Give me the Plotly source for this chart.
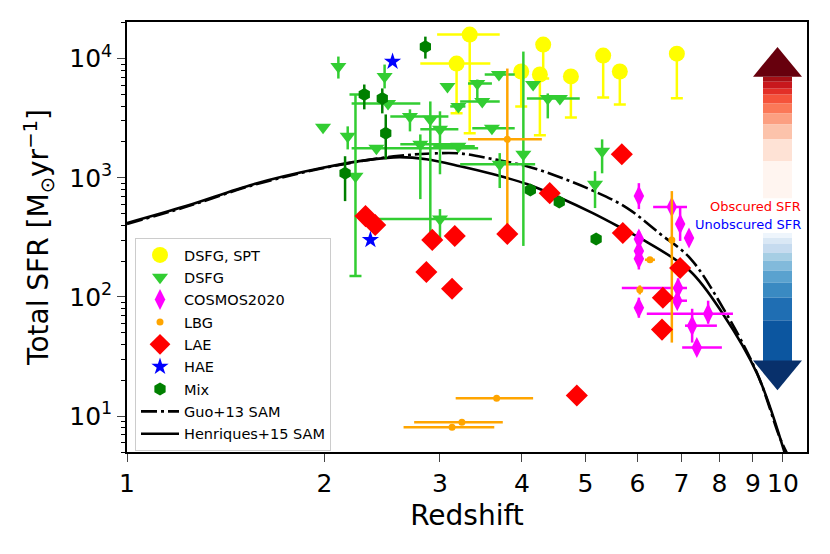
import numpy as np
import plotly.graph_objects as go

# ---- semi-analytic model curves ----
henriques_z = [1.0, 1.23, 1.56, 1.97, 2.35, 2.6, 2.86, 3.22, 3.62, 4.07, 4.57, 5.13, 5.78, 6.05, 7.21, 8.1, 9.13, 10.05]
henriques_sfr = [417, 579, 884, 1200, 1420, 1490, 1430, 1250, 1070, 885, 680, 505, 358, 313, 166, 72, 22.8, 5.0]
guo_z = [1.0, 1.23, 1.56, 1.97, 2.35, 2.6, 2.86, 3.22, 3.62, 4.07, 4.57, 5.13, 5.78, 6.49, 7.21, 8.1, 9.13, 9.9, 10.2]
guo_sfr = [410, 570, 870, 1190, 1420, 1530, 1590, 1600, 1430, 1250, 1010, 780, 560, 340, 213, 81, 23, 6.5, 4.6]

# ---- DSFG, SPT (lower error bars only) ----
spt_z = [3.33, 3.18, 4.31, 3.99, 4.26, 4.75, 5.32, 5.64, 6.89]
spt_sfr = [15900, 9080, 13100, 7790, 7350, 7080, 10600, 7790, 11000]
spt_z_lo = [2.97, 2.80, 4.31, 3.99, 4.26, 4.75, 5.32, 5.64, 6.89]
spt_z_hi = [3.70, 3.58, 4.31, 3.99, 4.26, 4.75, 5.32, 5.64, 6.89]
spt_sfr_lo = [2360, 3470, 6810, 3970, 2270, 3210, 4720, 4120, 4640]

# ---- DSFG ----
dsfg_z = [1.99, 2.10, 2.17, 2.47, 2.50, 2.70, 2.90, 3.00, 2.80, 2.40, 3.20, 3.08, 3.42,
          3.69, 3.48, 3.20, 3.60, 4.16, 4.02, 4.38, 4.57, 3.70, 3.00, 5.30, 5.17]
dsfg_sfr = [2650, 8570, 2230, 7070, 4200, 3270, 3090, 2550, 1910, 1770, 1840, 5830, 6180,
            7350, 4370, 3970, 2600, 6060, 1575, 4630, 4630, 1300, 451, 1670, 884]
dsfg_z_lo = [1.99, 2.10, 2.17, 2.47, 2.20, 2.52, 2.90, 2.80, 2.61, 2.20, 2.93, 3.08, 3.31,
             3.51, 3.22, 3.11, 3.36, 4.16, 4.02, 4.07, 4.57, 3.22, 2.41, 5.30, 5.17]
dsfg_z_hi = [1.99, 2.10, 2.17, 2.47, 2.80, 3.09, 2.90, 3.20, 3.22, 3.43, 3.39, 3.08, 3.60,
             3.90, 3.70, 3.28, 3.90, 4.16, 4.02, 4.90, 4.57, 4.19, 3.60, 5.30, 5.17]
dsfg_sfr_lo = [2650, 6800, 1730, 5620, 4200, 2450, 307, 1070, 662, 1770, 1840, 5830, 4630,
               7350, 4370, 3970, 2600, 6060, 268, 3150, 4630, 820, 295, 1090, 557]
dsfg_sfr_hi = [2650, 10400, 2700, 8910, 4200, 3750, 4370, 3610, 2310, 1770, 1840, 5830, 6670,
               7350, 4370, 3970, 2600, 6060, 11450, 5100, 4630, 1610, 546, 2100, 1136]
# the one DSFG drawn with caps
dsfg_cap_z = [2.23]
dsfg_cap_sfr = [1030]
dsfg_cap_lo = [150]
dsfg_cap_hi = [5000]

# ---- COSMOS2020 ----
cosmos_z = [6.03, 6.77, 6.97, 7.19, 6.03, 6.03, 6.03, 6.92, 6.90, 6.03, 7.69, 7.27, 7.39]
cosmos_sfr = [702, 568, 409, 313, 307, 243, 209, 119, 93, 81, 72.4, 57.4, 37.6]
cosmos_z_lo = [6.03, 6.34, 6.97, 7.19, 6.03, 6.03, 6.03, 5.68, 6.63, 6.03, 6.20, 7.09, 7.02]
cosmos_z_hi = [6.03, 7.14, 6.97, 7.19, 6.03, 6.03, 6.03, 7.14, 7.14, 6.03, 8.39, 7.93, 8.07]
cosmos_sfr_lo = [546, 568, 295, 313, 250, 243, 170, 98, 93, 67, 59.7, 41.4, 37.6]
cosmos_sfr_hi = [901, 568, 579, 313, 358, 243, 243, 143, 93, 98.5, 93, 79.6, 37.6]

# ---- LBG ----
lbg_z = [3.80, 6.77, 6.27, 6.05, 3.66, 3.24, 3.13]
lbg_sfr = [2100, 301, 205, 115, 14.1, 8.87, 8.06]
lbg_z_lo = [3.31, 6.77, 6.16, 6.05, 3.17, 2.74, 2.64]
lbg_z_hi = [4.29, 6.77, 6.38, 6.05, 4.16, 3.74, 3.63]
lbg_sfr_lo = [344, 41.4, 205, 105, 14.1, 8.87, 8.06]
lbg_sfr_hi = [8250, 773, 205, 125, 14.1, 8.87, 8.06]

# ---- LAE ----
lae_z = [2.31, 2.39, 2.92, 3.16, 3.80, 2.86, 3.13, 4.85, 4.41, 5.68, 5.70, 6.97, 6.56, 6.54]
lae_sfr = [477, 402, 301, 325, 338, 162, 117, 14.9, 743, 1575, 344, 175, 98.5, 53.2]

# ---- HAE ----
hae_z = [2.54, 2.35]
hae_sfr = [9440, 301]

# ---- Mix ----
mix_z = [2.30, 2.45, 2.85, 2.48, 2.15, 4.12, 4.56, 5.19]
mix_sfr = [5000, 4630, 12600, 2360, 1093, 788, 625, 307]
mix_sfr_lo = [3750, 3470, 10000, 1430, 637, 788, 625, 307]
mix_sfr_hi = [6060, 5620, 15280, 3400, 1516, 788, 625, 307]


def err(v, lo, hi):
    v, lo, hi = np.array(v, float), np.array(lo, float), np.array(hi, float)
    return (hi - v).tolist(), (v - lo).tolist()


FONT = "DejaVu Sans"
W, H = 830, 554
# plot box in screen pixels; the page body adds an 8px offset
OFF = 8
L, R, T, B = 127, 807, 20, 452

fig = go.Figure()

fig.add_trace(go.Scatter(x=guo_z, y=guo_sfr, mode="lines", name="Guo+13 SAM",
                         line=dict(color="black", width=2.6, dash="16px,4px,3px,4px", shape="spline"),
                         legendgroup="g8", legendrank=8))
fig.add_trace(go.Scatter(x=henriques_z, y=henriques_sfr, mode="lines", name="Henriques+15 SAM",
                         line=dict(color="black", width=2.6, shape="spline"),
                         legendgroup="g9", legendrank=9))

up, dn = err(spt_sfr, spt_sfr_lo, spt_sfr)
xu, xd = err(spt_z, spt_z_lo, spt_z_hi)
fig.add_trace(go.Scatter(x=spt_z, y=spt_sfr, mode="markers", name="DSFG, SPT",
                         marker=dict(symbol="circle", size=16, color="yellow"),
                         error_y=dict(type="data", symmetric=False, array=up, arrayminus=dn,
                                      color="yellow", thickness=2.5, width=6),
                         error_x=dict(type="data", symmetric=False, array=xu, arrayminus=xd,
                                      color="yellow", thickness=2.5, width=0),
                         legendgroup="g1", legendrank=1))

up, dn = err(dsfg_sfr, dsfg_sfr_lo, dsfg_sfr_hi)
xu, xd = err(dsfg_z, dsfg_z_lo, dsfg_z_hi)
fig.add_trace(go.Scatter(x=dsfg_z, y=dsfg_sfr, mode="markers", name="DSFG",
                         marker=dict(symbol="triangle-down", size=14, color="limegreen"),
                         error_y=dict(type="data", symmetric=False, array=up, arrayminus=dn,
                                      color="limegreen", thickness=2.5, width=0),
                         error_x=dict(type="data", symmetric=False, array=xu, arrayminus=xd,
                                      color="limegreen", thickness=2.5, width=0),
                         legendgroup="g2", legendrank=2))
up, dn = err(dsfg_cap_sfr, dsfg_cap_lo, dsfg_cap_hi)
fig.add_trace(go.Scatter(x=dsfg_cap_z, y=dsfg_cap_sfr, mode="markers", showlegend=False,
                         marker=dict(symbol="triangle-down", size=14, color="limegreen"),
                         error_y=dict(type="data", symmetric=False, array=up, arrayminus=dn,
                                      color="limegreen", thickness=2.5, width=6)))

up, dn = err(cosmos_sfr, cosmos_sfr_lo, cosmos_sfr_hi)
xu, xd = err(cosmos_z, cosmos_z_lo, cosmos_z_hi)
fig.add_trace(go.Scatter(x=cosmos_z, y=cosmos_sfr, mode="markers", name="COSMOS2020",
                         marker=dict(symbol="diamond-tall", size=15, color="magenta"),
                         error_y=dict(type="data", symmetric=False, array=up, arrayminus=dn,
                                      color="magenta", thickness=2.5, width=0),
                         error_x=dict(type="data", symmetric=False, array=xu, arrayminus=xd,
                                      color="magenta", thickness=2.5, width=0),
                         legendgroup="g3", legendrank=3))

up, dn = err(lbg_sfr, lbg_sfr_lo, lbg_sfr_hi)
xu, xd = err(lbg_z, lbg_z_lo, lbg_z_hi)
fig.add_trace(go.Scatter(x=lbg_z, y=lbg_sfr, mode="markers", name="LBG",
                         marker=dict(symbol="circle", size=7, color="orange"),
                         error_y=dict(type="data", symmetric=False, array=up, arrayminus=dn,
                                      color="orange", thickness=2.5, width=0),
                         error_x=dict(type="data", symmetric=False, array=xu, arrayminus=xd,
                                      color="orange", thickness=2.5, width=0),
                         legendgroup="g4", legendrank=4))

fig.add_trace(go.Scatter(x=lae_z, y=lae_sfr, mode="markers", name="LAE",
                         marker=dict(symbol="diamond", size=17, color="red"),
                         legendgroup="g5", legendrank=5))

fig.add_trace(go.Scatter(x=hae_z, y=hae_sfr, mode="markers", name="HAE",
                         marker=dict(symbol="star", size=13, color="blue"),
                         legendgroup="g6", legendrank=6))

up, dn = err(mix_sfr, mix_sfr_lo, mix_sfr_hi)
fig.add_trace(go.Scatter(x=mix_z, y=mix_sfr, mode="markers", name="Mix",
                         marker=dict(symbol="hexagon", size=13, color="green"),
                         error_y=dict(type="data", symmetric=False, array=up, arrayminus=dn,
                                      color="green", thickness=2.5, width=0),
                         legendgroup="g7", legendrank=7))


# ---- the obscured / unobscured arrow on the right ----
def px(x, y):
    return (x - L) / (R - L), (B - y) / (B - T)


shapes = []
red_edges = [75, 80, 87, 93, 102, 112, 123, 138, 160, 197]
red_cols = ["#a50f15", "#c8171c", "#e32f27", "#f5533b", "#fb7858", "#fc9f81", "#fcc3ab", "#fee2d5", "#fff5f0"]
blue_edges = [232, 237, 243, 252, 260, 270, 282, 297, 320, 361]
blue_cols = ["#eef5fc", "#dae8f5", "#c6dbef", "#a6cee4", "#82badb", "#5aa2cf", "#3a8ac2", "#1f6eb3", "#0c56a0"]
for edges, cols in [(red_edges, red_cols), (blue_edges, blue_cols)]:
    for i, c in enumerate(cols):
        x0, y0 = px(763, edges[i])
        x1, y1 = px(792, edges[i + 1])
        shapes.append(dict(type="rect", xref="paper", yref="paper", x0=x0, x1=x1, y0=y1, y1=y0,
                           fillcolor=c, line=dict(width=0), layer="above"))


def tri(pts, col):
    p = [px(*q) for q in pts]
    path = "M {} {} L {} {} L {} {} Z".format(p[0][0], p[0][1], p[1][0], p[1][1], p[2][0], p[2][1])
    return dict(type="path", xref="paper", yref="paper", path=path, fillcolor=col,
                line=dict(width=0), layer="above")


shapes.append(tri([(753, 75), (802, 75), (777.5, 45)], "#67000d"))
shapes.append(tri([(753, 360), (802, 360), (777.5, 390)], "#08306b"))

ox, oy = px(803, 205)
ux, uy = px(803, 223)
annotations = [
    dict(text="Obscured SFR", x=ox, y=oy, xref="paper", yref="paper", xanchor="right",
         yanchor="middle", showarrow=False, font=dict(family=FONT, size=13, color="red")),
    dict(text="Unobscured SFR", x=ux, y=uy, xref="paper", yref="paper", xanchor="right",
         yanchor="middle", showarrow=False, font=dict(family=FONT, size=13, color="blue")),
]

x_ticks = [1, 2, 3, 4, 5, 6, 7, 8, 9, 10]
y_ticks = [10, 100, 1000, 10000]
y_minor = [m * 10 ** d for d in range(0, 5) for m in range(2, 10)]
y_minor = [v for v in y_minor if 5 <= v <= 20000 and v not in y_ticks]

fig.update_layout(
    width=W, height=H,
    margin=dict(l=L - OFF, r=W - R + OFF, t=T - OFF, b=H - B + OFF),
    plot_bgcolor="white", paper_bgcolor="white",
    font=dict(family=FONT, color="black"),
    shapes=shapes, annotations=annotations,
    legend=dict(x=px(135, 237)[0], y=px(135, 237)[1], xanchor="left", yanchor="top",
                bgcolor="rgba(255,255,255,0.8)", bordercolor="#cccccc", borderwidth=1,
                font=dict(family=FONT, size=14.5), tracegroupgap=0.5, itemwidth=38),
    xaxis=dict(type="log", range=[0, np.log10(10.88)], tickvals=x_ticks,
               ticktext=[str(v) for v in x_ticks], ticks="outside", ticklen=8, tickwidth=1.3,
               tickfont=dict(size=25), showgrid=False, zeroline=False,
               showline=True, linecolor="black", linewidth=1.5, mirror=True,
               title=dict(text="Redshift", font=dict(size=28), standoff=9)),
    yaxis=dict(type="log", range=[0.699, 4.307], tickvals=y_ticks,
               ticktext=["10<sup>1</sup>", "10<sup>2</sup>", "10<sup>3</sup>", "10<sup>4</sup>"],
               ticks="outside", ticklen=8, tickwidth=1.3, tickfont=dict(size=25),
               minor=dict(tickvals=y_minor, ticks="outside", ticklen=4, tickwidth=1, tickcolor="black"),
               showgrid=False, zeroline=False,
               showline=True, linecolor="black", linewidth=1.5, mirror=True,
               title=dict(text="Total SFR [M<sub>⊙</sub>yr<sup>−1</sup>]", font=dict(size=28), standoff=12)),
)

fig.write_html("out.html")
